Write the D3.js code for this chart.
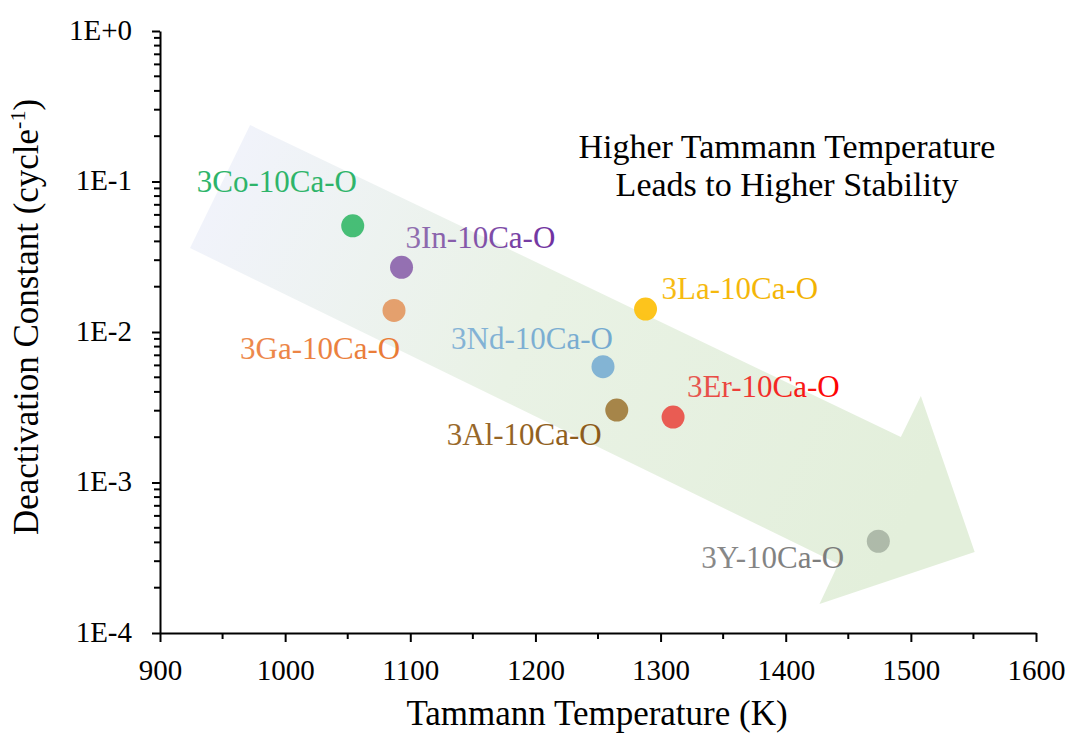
<!DOCTYPE html>
<html><head><meta charset="utf-8">
<script src="https://cdn.jsdelivr.net/npm/d3@7"></script>
<style>body{margin:0;background:#fff} svg{display:block}</style>
</head><body><svg id="chart" width="1071" height="734"></svg>
<script>
// ---------- data ----------
const catalysts  = ["3Co-10Ca-O","3In-10Ca-O","3Ga-10Ca-O","3Nd-10Ca-O","3La-10Ca-O","3Al-10Ca-O","3Er-10Ca-O","3Y-10Ca-O"];
const tammannK   = [1054, 1093, 1087, 1254, 1288, 1265, 1310, 1474];
const deactConst = [0.0508, 0.0269, 0.0139, 0.00588, 0.0142, 0.00303, 0.00272, 0.000407];
const xTicks = [900, 1000, 1100, 1200, 1300, 1400, 1500, 1600];
const xMinorTicks = [950, 1050, 1150, 1250, 1350, 1450, 1550];
const yTicks = [1, 0.1, 0.01, 0.001, 0.0001];
const yTickLabels = ["1E+0", "1E-1", "1E-2", "1E-3", "1E-4"];
const annotationLines = ["Higher Tammann Temperature", "Leads to Higher Stability"];
// arrow outline in data space (temperature, deactivation constant)
const arrowT = [972, 1492, 1508, 1551, 1427, 1442, 924];
const arrowK = [0.2373, 0.002006, 0.003757, 0.0003453, 0.0001558, 0.0002874, 0.03614];

// ---------- styles / layout ----------
const pointColors = ["#3dba6f", "#8f68ae", "#e49b66", "#7db0d3", "#fdc110", "#a27e40", "#e9534b", "#abb6a7"];
const labelColors = [["#2eb46a","#2eb46a"], ["#9272b0","#7030a0"], ["#ed8a4e","#e97a35"], ["#86b4d6","#74a9cf"],
                     ["#f7bc14","#f2b200"], ["#9a6a2c","#8b5a1a"], ["#e45d55","#ff0000"], ["#8a8a8a","#7a7a7a"]];
const labelDx = [-156, 4, -154, -152, 16, -170, 14, -177];
const labelDy = [-34, -19, 49, -18, -10, 35, -20, 27];
const FONT = "'Liberation Serif','Times New Roman',Times,serif";

const svg = d3.select("#chart");
const x = d3.scaleLinear().domain([900, 1600]).range([160, 1036]);
const y = d3.scaleLog().domain([1e-4, 1]).range([633, 31]);

const defs = svg.append("defs");
const ag = defs.append("linearGradient").attr("id", "arrowGrad")
  .attr("gradientUnits", "userSpaceOnUse")
  .attr("x1", x(940)).attr("y1", y(0.09)).attr("x2", x(1500)).attr("y2", y(0.0006));
ag.append("stop").attr("offset", 0).attr("stop-color", "#f1f3fb");
ag.append("stop").attr("offset", 0.45).attr("stop-color", "#e9f2e5");
ag.append("stop").attr("offset", 1).attr("stop-color", "#e3efdb");

labelColors.forEach((c, i) => {
  const g = defs.append("linearGradient").attr("id", "lg" + i)
    .attr("x1", 0).attr("y1", 0).attr("x2", 1).attr("y2", 0);
  g.append("stop").attr("offset", 0).attr("stop-color", c[0]);
  g.append("stop").attr("offset", 1).attr("stop-color", c[1]);
});

// arrow
const arrowPts = arrowT.map((t, i) => [x(t), y(arrowK[i])]);
svg.append("path").attr("d", d3.line()(arrowPts) + "Z").attr("fill", "url(#arrowGrad)");

// annotation (two separate lines)
svg.append("g").selectAll("text").data(annotationLines).join("text")
  .attr("x", 787).attr("y", (d, i) => 158 + i * 38).attr("text-anchor", "middle")
  .attr("font-family", FONT).attr("font-size", 34).attr("fill", "#000")
  .text(d => d);

// axes
const xAxis = svg.append("g").attr("transform", `translate(0,${y(1e-4)})`)
  .call(d3.axisBottom(x).tickValues(xTicks).tickSize(9).tickSizeOuter(0).tickFormat(d3.format("d")));
xAxis.selectAll(".tick text").attr("y", 47).attr("dy", 0)
  .attr("font-family", FONT).attr("font-size", 29).attr("fill", "#000");
svg.append("g").selectAll("line").data(xMinorTicks).join("line")
  .attr("x1", d => x(d)).attr("x2", d => x(d)).attr("y1", y(1e-4)).attr("y2", y(1e-4) + 6)
  .attr("stroke", "#000").attr("stroke-width", 2);

const yAxis = svg.append("g").attr("transform", `translate(${x(900)},0)`)
  .call(d3.axisLeft(y).tickValues(yTicks).tickSize(8).tickSizeOuter(0)
    .tickFormat((d, i) => yTickLabels[i]));
yAxis.selectAll(".tick text").attr("x", -28).attr("dy", 0).attr("y", 8)
  .attr("font-family", FONT).attr("font-size", 29).attr("fill", "#000");
const yMinor = [];
[1e-4, 1e-3, 1e-2, 1e-1].forEach(dec => { for (let m = 2; m <= 9; m++) yMinor.push(m * dec); });
svg.append("g").selectAll("line").data(yMinor).join("line")
  .attr("x1", x(900) - 6).attr("x2", x(900)).attr("y1", d => y(d)).attr("y2", d => y(d))
  .attr("stroke", "#000").attr("stroke-width", 2);

[xAxis, yAxis].forEach(a => {
  a.select(".domain").attr("stroke", "#000").attr("stroke-width", 2);
  a.selectAll(".tick line").attr("stroke", "#000").attr("stroke-width", 2);
});

// axis titles
svg.append("text").attr("x", 597).attr("y", 725).attr("text-anchor", "middle")
  .attr("font-family", FONT).attr("font-size", 35).attr("fill", "#000")
  .text("Tammann Temperature (K)");
const yt = svg.append("text").attr("transform", "translate(38,317) rotate(-90)")
  .attr("text-anchor", "middle").attr("font-family", FONT).attr("font-size", 35).attr("fill", "#000");
yt.append("tspan").text("Deactivation Constant (cycle");
yt.append("tspan").attr("font-size", 22).attr("dy", -13).text("-1");
yt.append("tspan").attr("dy", 13).text(")");

// points
const idx = d3.range(catalysts.length);
svg.append("g").selectAll("circle").data(idx).join("circle")
  .attr("cx", i => x(tammannK[i])).attr("cy", i => y(deactConst[i])).attr("r", 11.5)
  .attr("fill", i => pointColors[i]).attr("fill-opacity", 0.95);

// labels
svg.append("g").selectAll("text").data(idx).join("text")
  .attr("x", i => x(tammannK[i]) + labelDx[i]).attr("y", i => y(deactConst[i]) + labelDy[i])
  .attr("font-family", FONT).attr("font-size", 31).attr("fill", i => `url(#lg${i})`)
  .text(i => catalysts[i]);
</script></body></html>
